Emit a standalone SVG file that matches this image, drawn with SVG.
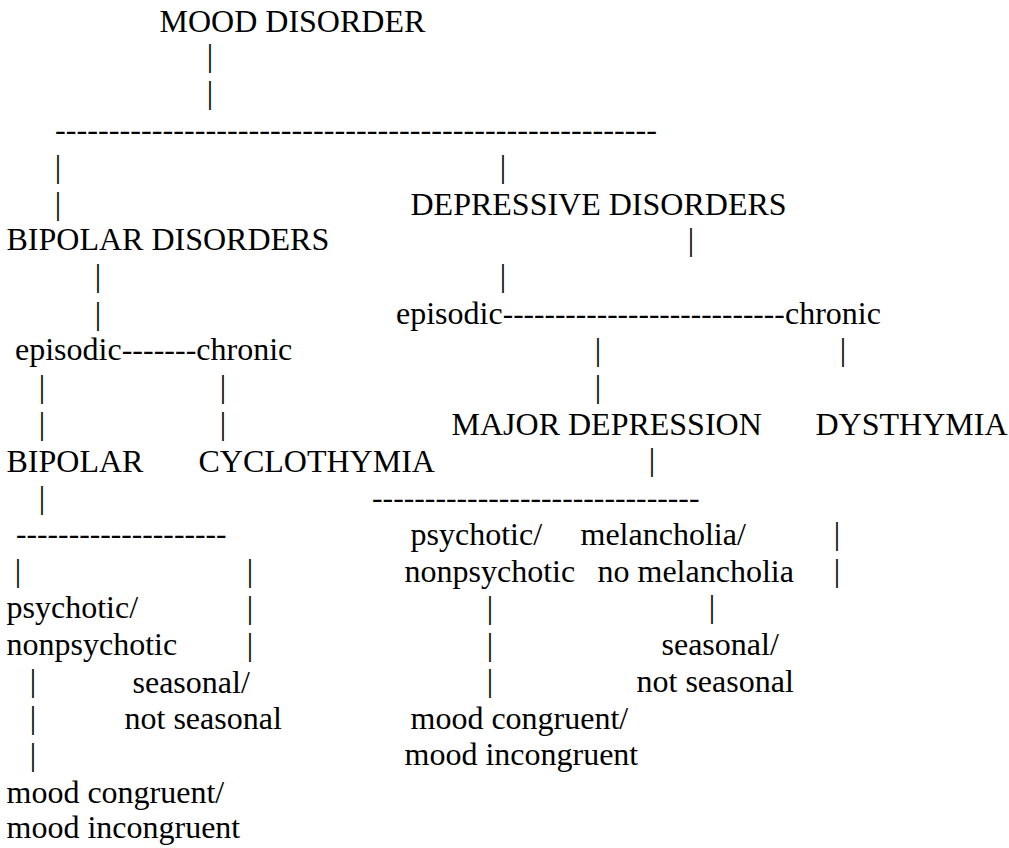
<svg xmlns="http://www.w3.org/2000/svg" width="1009" height="848" viewBox="0 0 1009 848">
<style>
text{font-family:"Liberation Serif","Times New Roman",serif;font-size:32px;fill:#000}
.p{text-anchor:middle}
#connectors{opacity:0.999}
</style>
<rect width="1009" height="848" fill="#fff"/>
<g id="connectors">
<text class="p" x="210" y="66">|</text>
<text class="p" x="210" y="103">|</text>
<text x="55" y="140" textLength="602" lengthAdjust="spacingAndGlyphs">--------------------------------------------------------</text>
<text class="p" x="58" y="177">|</text>
<text class="p" x="58" y="214">|</text>
<text class="p" x="503" y="177">|</text>
<text class="p" x="691" y="250">|</text>
<text class="p" x="98" y="286">|</text>
<text class="p" x="98" y="324">|</text>
<text class="p" x="503" y="286">|</text>
<text x="121.7" y="360">-------</text>
<text x="502.7" y="324" textLength="282" lengthAdjust="spacingAndGlyphs">---------------------------</text>
<text class="p" x="42" y="397">|</text>
<text class="p" x="42" y="434">|</text>
<text class="p" x="223" y="397">|</text>
<text class="p" x="223" y="434">|</text>
<text class="p" x="598" y="360">|</text>
<text class="p" x="598" y="397">|</text>
<text class="p" x="843" y="360">|</text>
<text class="p" x="652" y="470">|</text>
<text class="p" x="42" y="508">|</text>
<text x="372" y="508" textLength="327.5" lengthAdjust="spacingAndGlyphs">-------------------------------</text>
<text x="16" y="544" textLength="210.5" lengthAdjust="spacingAndGlyphs">--------------------</text>
<text class="p" x="837" y="544">|</text>
<text class="p" x="837" y="581">|</text>
<text class="p" x="18" y="581">|</text>
<text class="p" x="250" y="581">|</text>
<text class="p" x="250" y="618">|</text>
<text class="p" x="250" y="655">|</text>
<text class="p" x="490" y="618">|</text>
<text class="p" x="490" y="655">|</text>
<text class="p" x="490" y="691">|</text>
<text class="p" x="712" y="617">|</text>
<text class="p" x="33" y="691">|</text>
<text class="p" x="33" y="728">|</text>
<text class="p" x="33" y="765">|</text>
</g>
<g id="mood-disorder"><text x="159.5" y="32">MOOD DISORDER</text></g>
<g id="depressive-disorders"><text x="410.5" y="215">DEPRESSIVE DISORDERS</text></g>
<g id="bipolar-disorders"><text x="6.5" y="250">BIPOLAR DISORDERS</text></g>
<g id="bipolar-episodic"><text x="15" y="360">episodic</text></g>
<g id="bipolar-chronic"><text x="196.3" y="360">chronic</text></g>
<g id="depressive-episodic"><text x="396" y="324">episodic</text></g>
<g id="depressive-chronic"><text x="785" y="324">chronic</text></g>
<g id="major-depression"><text x="451.5" y="435">MAJOR DEPRESSION</text></g>
<g id="dysthymia"><text x="815.5" y="435">DYSTHYMIA</text></g>
<g id="bipolar"><text x="6.5" y="472">BIPOLAR</text></g>
<g id="cyclothymia"><text x="198.5" y="472">CYCLOTHYMIA</text></g>
<g id="md-psychotic"><text x="410.5" y="545">psychotic/</text><text x="404.5" y="582">nonpsychotic</text></g>
<g id="md-melancholia"><text x="580.5" y="545">melancholia/</text><text x="597.5" y="582">no melancholia</text></g>
<g id="md-seasonal"><text x="661.5" y="655">seasonal/</text><text x="636.5" y="692">not seasonal</text></g>
<g id="md-mood"><text x="410.5" y="729">mood congruent/</text><text x="404.5" y="765">mood incongruent</text></g>
<g id="bp-psychotic"><text x="6.5" y="618">psychotic/</text><text x="6.5" y="655">nonpsychotic</text></g>
<g id="bp-seasonal"><text x="132.5" y="693">seasonal/</text><text x="124.5" y="729">not seasonal</text></g>
<g id="bp-mood"><text x="6.5" y="803">mood congruent/</text><text x="6.5" y="838">mood incongruent</text></g>
</svg>
